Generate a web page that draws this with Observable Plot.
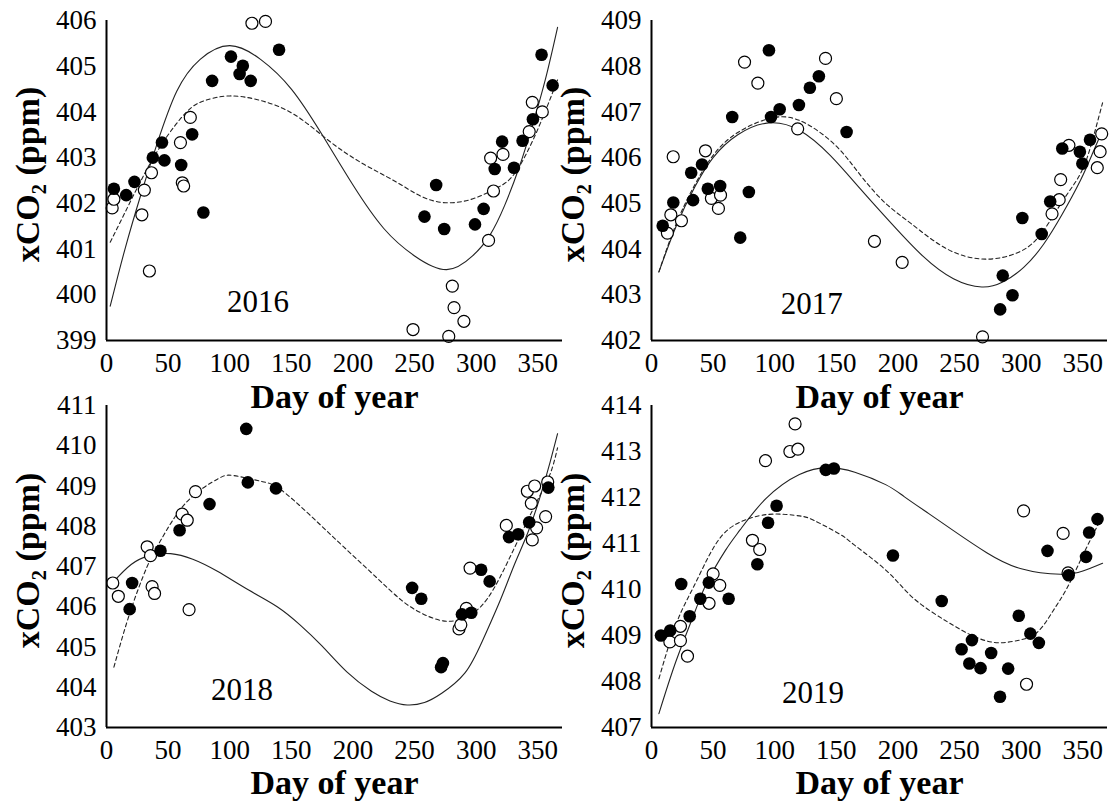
<!DOCTYPE html>
<html>
<head>
<meta charset="utf-8">
<script src="https://cdn.jsdelivr.net/npm/d3@7"></script>
<script src="https://cdn.jsdelivr.net/npm/@observablehq/plot@0.6"></script>
<style>
  html, body { margin: 0; padding: 0; background: #fff; }
  #chart { position: relative; width: 1113px; height: 804px; overflow: hidden; background: #fff; }
  .cell { position: absolute; }
  #chart svg text { font-family: 'Liberation Serif', 'Times New Roman', serif !important; fill: #000; }
</style>
</head>
<body>
<div id="chart"></div>
<script>
// Day-of-year ticks shared by all four panels
const dayTicks = [0, 50, 100, 150, 200, 250, 300, 350];

// ---- 2016 ----
const filled2016 = [[6,402.32],[16,402.18],[22.7,402.47],[37.6,403.0],[45,403.33],[47,402.94],[60.6,402.84],[69.5,403.51],[78.6,401.8],[85.7,404.68],[101,405.21],[108,404.83],[110.6,405.01],[117,404.68],[140,405.36],[258,401.71],[267.5,402.4],[274,401.44],[299,401.54],[306,401.88],[315,402.75],[321,403.35],[330.6,402.78],[337.6,403.37],[346,403.84],[353,405.25],[362,404.58]];
const open2016 = [[4.6,401.9],[6,402.09],[28.7,401.75],[30.7,402.29],[34.8,400.52],[36.5,402.67],[60,403.33],[61.5,402.45],[62.6,402.38],[68,403.88],[118,405.94],[129,405.98],[248.7,399.24],[277.7,399.09],[280.6,400.19],[282,399.72],[290,399.42],[310,401.19],[311.7,402.99],[314,402.27],[321.7,403.07],[343,403.57],[345.5,404.21],[353.6,404.0]];
const solid2016 = [[3,399.75],[15,401.0],[28,402.2],[41,403.3],[57,404.45],[76,405.15],[100,405.45],[125,405.15],[150,404.5],[175,403.5],[200,402.4],[225,401.45],[250,400.85],[276,400.55],[297,400.85],[311,401.3],[323,401.95],[335,402.8],[345,403.65],[356,404.7],[366,405.85]];
const dashed2016 = [[3,401.15],[15,401.8],[28,402.5],[45,403.3],[65,404.0],[80,404.25],[100,404.35],[125,404.25],[152,403.95],[179,403.4],[206,402.9],[233,402.5],[252,402.2],[272,402.02],[295,402.08],[314,402.3],[328,402.55],[340,403.05],[352,403.75],[366,404.7]];
const ticks2016 = [399, 400, 401, 402, 403, 404, 405, 406];

// ---- 2017 ----
const filled2017 = [[9.1,404.51],[17.7,405.02],[32.2,405.67],[33.7,405.07],[41,405.85],[45.7,405.32],[55.7,405.38],[65.5,406.89],[72,404.25],[79,405.25],[95.3,408.35],[97,406.89],[104,407.06],[119.6,407.15],[128.5,407.53],[135.8,407.78],[158.3,406.56],[282.9,402.68],[285,403.42],[292.9,402.99],[300.9,404.68],[316.6,404.33],[323.5,405.04],[333.3,406.2],[347.6,406.13],[349.6,405.87],[355.8,406.39]];
const open2017 = [[12.9,404.35],[15.7,404.75],[17.6,406.02],[24.3,404.62],[43.8,406.15],[48.6,405.11],[54.3,404.89],[56,405.18],[75.5,408.09],[86.3,407.63],[118.6,406.63],[141.2,408.17],[150,407.29],[180.9,404.17],[203.4,403.71],[268.6,402.08],[325,404.77],[330.8,405.08],[332,405.52],[338.7,406.27],[361.7,405.78],[364,406.13],[365.3,406.52]];
const solid2017 = [[6,403.5],[20,404.5],[35,405.35],[50,406.0],[70,406.5],[95,406.76],[120,406.6],[145,406.05],[170,405.3],[195,404.55],[220,403.85],[245,403.35],[268,403.17],[285,403.28],[302,403.6],[318,404.1],[333,404.75],[348,405.5],[358,406.1],[366,406.6]];
const dashed2017 = [[6,403.5],[20,404.55],[35,405.4],[50,406.05],[70,406.55],[100,406.88],[125,406.75],[150,406.25],[170,405.6],[190,405.0],[211,404.55],[240,404.0],[271,403.78],[297,403.92],[312,404.2],[323,404.6],[336,405.15],[349,405.7],[358,406.4],[366,407.2]];
const ticks2017 = [402, 403, 404, 405, 406, 407, 408, 409];

// ---- 2018 ----
const filled2018 = [[18.8,405.94],[20.8,406.59],[43.8,407.39],[59.3,407.9],[83.6,408.55],[113.4,410.42],[114.7,409.09],[137.5,408.94],[248,406.47],[255.4,406.2],[271.5,404.5],[273,404.6],[288.4,405.81],[296,405.85],[304,406.92],[310.9,406.63],[326.6,407.73],[334,407.8],[343,408.1],[358.5,408.96]];
const open2018 = [[5.1,406.59],[9.6,406.26],[33,407.49],[35.7,407.27],[37,406.5],[39,406.33],[61.4,408.3],[65.5,408.15],[67,405.93],[72.2,408.86],[286,405.45],[287.5,405.55],[292,405.96],[295,406.96],[324.4,408.02],[341.5,408.87],[344.7,408.57],[345.5,407.66],[347.4,409.0],[349,407.96],[356.3,408.24],[358,409.1]];
const solid2018 = [[5,406.6],[20,407.05],[35,407.27],[52,407.32],[70,407.18],[90,406.88],[115,406.42],[138.5,406.0],[157,405.55],[175,405.02],[195,404.38],[215,403.9],[230,403.66],[244,403.56],[258,403.62],[272,403.85],[290.7,404.35],[305,405.15],[320,406.2],[331,407.05],[342,407.85],[352,408.75],[360,409.6],[366,410.3]];
const dashed2018 = [[6,404.5],[19,405.85],[33,407.0],[44,407.65],[65,408.6],[90,409.17],[103,409.26],[125,409.12],[141,408.92],[165,408.28],[192,407.5],[220,406.7],[239,406.17],[255,405.85],[273,405.65],[290,405.72],[309,406.2],[330,407.4],[349,408.6],[360,409.3],[366,409.95]];
const ticks2018 = [403, 404, 405, 406, 407, 408, 409, 410, 411];

// ---- 2019 ----
const filled2019 = [[7.7,409.0],[15.2,409.11],[24.1,410.12],[31,409.42],[39.6,409.8],[46.5,410.15],[62.6,409.8],[85.9,410.55],[94.6,411.45],[101.5,411.82],[141.4,412.6],[148,412.63],[195.9,410.74],[235.5,409.75],[251.6,408.7],[257.9,408.39],[260,408.9],[267,408.29],[275.6,408.62],[282.8,407.67],[289.4,408.28],[298,409.43],[307.4,409.04],[314.3,408.84],[321.3,410.84],[338.5,410.31],[352.6,410.71],[355.1,411.24],[361.9,411.53]];
const open2019 = [[14.9,408.86],[23.5,409.2],[23.5,408.89],[29.2,408.55],[46.7,409.7],[50,410.34],[55.4,410.09],[81.9,411.07],[87.8,410.87],[92.5,412.8],[112.3,413.0],[116.5,413.6],[118.8,413.05],[301.9,411.71],[304.3,407.94],[334,411.22],[338,410.36]];
const solid2019 = [[6,407.3],[20,408.45],[35,409.5],[45,410.15],[60,410.85],[72,411.3],[93,411.98],[120,412.5],[143,412.65],[165,412.55],[190,412.28],[205,412.02],[225,411.65],[245,411.28],[272,410.8],[300,410.45],[332,410.33],[350,410.4],[366,410.57]];
const dashed2019 = [[6,408.06],[20,409.25],[34,410.05],[48,410.8],[62,411.3],[80,411.55],[100,411.64],[120,411.6],[132,411.5],[153,411.2],[164,410.98],[191,410.4],[213,409.8],[240,409.3],[260,409.0],[278,408.85],[295,408.88],[312,409.05],[325,409.5],[337.5,410.05],[351,410.8],[366,411.6]];
const ticks2019 = [407, 408, 409, 410, 411, 412, 413, 414];

const years = ["2016", "2017", "2018", "2019"];

const serif = "'Liberation Serif', 'Times New Roman', serif";

// Panel placement on the page (top row / bottom row, left column / right column)
const panels = [
  {year: years[0], filled: filled2016, open: open2016, solid: solid2016, dashed: dashed2016, ticks: ticks2016,
   left: 0, top: 0, height: 400, mt: 20, mb: 60, titleDy: 57, yearAt: [123, 399.83]},
  {year: years[1], filled: filled2017, open: open2017, solid: solid2017, dashed: dashed2017, ticks: ticks2017,
   left: 545, top: 0, height: 400, mt: 20, mb: 60, titleDy: 57, yearAt: [130, 402.79]},
  {year: years[2], filled: filled2018, open: open2018, solid: solid2018, dashed: dashed2018, ticks: ticks2018,
   left: 0, top: 385, height: 419, mt: 20, mb: 77, titleDy: 56, yearAt: [110, 403.92]},
  {year: years[3], filled: filled2019, open: open2019, solid: solid2019, dashed: dashed2019, ticks: ticks2019,
   left: 545, top: 385, height: 419, mt: 20, mb: 77, titleDy: 56, yearAt: [131, 407.74]}
];

const chart = document.getElementById("chart");

for (const p of panels) {
  const yDomain = [p.ticks[0], p.ticks[p.ticks.length - 1]];
  const svg = Plot.plot({
    width: 566,
    height: p.height,
    marginLeft: 106,
    marginRight: 4,
    marginTop: p.mt,
    marginBottom: p.mb,
    style: {background: "transparent", overflow: "visible", fontFamily: serif, fontSize: "27px", color: "#000"},
    x: {domain: [0, 370], ticks: dayTicks, tickSize: 0, tickPadding: 12, tickFormat: d3.format("d"), label: null},
    y: {domain: yDomain, ticks: p.ticks, tickSize: 0, tickPadding: 10, tickFormat: d3.format("d"), label: null},
    marks: [
      Plot.line(p.solid, {x: d => d[0], y: d => d[1], curve: "natural", stroke: "#222", strokeWidth: 1.1, clip: true}),
      Plot.line(p.dashed, {x: d => d[0], y: d => d[1], curve: "natural", stroke: "#222", strokeWidth: 1.1, strokeDasharray: "4,3", clip: true}),
      Plot.dot(p.open, {x: d => d[0], y: d => d[1], r: 6, fill: "white", stroke: "#000", strokeWidth: 1.2}),
      Plot.dot(p.filled, {x: d => d[0], y: d => d[1], r: 6.3, fill: "#000", stroke: "none"}),
      Plot.ruleX([0], {stroke: "#000", strokeWidth: 2}),
      Plot.ruleY([yDomain[0]], {stroke: "#000", strokeWidth: 2}),
      Plot.text([p.year], {x: p.yearAt[0], y: p.yearAt[1], fontSize: 31, textAnchor: "middle", lineAnchor: "middle"}),
      Plot.text(["Day of year"], {frameAnchor: "bottom", dy: p.titleDy, fontSize: 34, fontWeight: "bold", lineAnchor: "middle"}),
      Plot.text(["xCO\u2082 (ppm)"], {frameAnchor: "left", dx: -78, dy: -6, rotate: -90, fontSize: 34, fontWeight: "bold", textAnchor: "middle", lineAnchor: "middle"})
    ]
  });
  const cell = document.createElement("div");
  cell.className = "cell";
  cell.style.left = p.left + "px";
  cell.style.top = p.top + "px";
  cell.appendChild(svg);
  chart.appendChild(cell);
}
</script>
</body>
</html>
